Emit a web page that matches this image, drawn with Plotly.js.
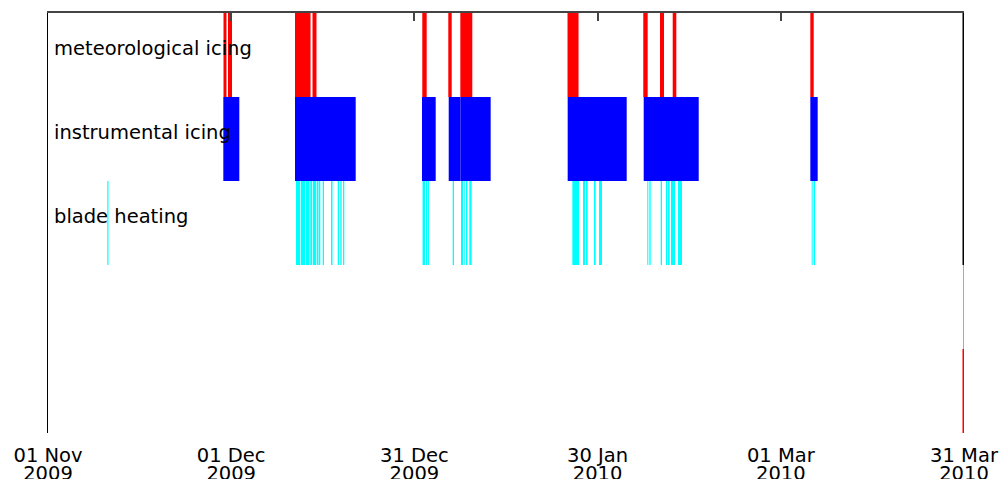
<!DOCTYPE html>
<html><head><meta charset="utf-8">
<script src="https://cdn.plot.ly/plotly-3.0.1.min.js"></script>
<style>html,body{margin:0;padding:0;background:#fff}#chart{width:1001px;height:479px}</style>
</head><body><div id="chart"></div>
<script>
// Row labels and their row positions (y units)
const rowLabels = ['meteorological icing', 'instrumental icing', 'blade heating'];
const rowPos = [4.5, 3.5, 2.5];

// Meteorological icing events (start / end)
const metStart = ['2009-11-29 17:45','2009-11-30 11:30','2009-12-11 10:45','2009-12-14 07:30','2010-01-01 07:00','2010-01-05 13:15','2010-01-07 12:30','2010-01-25 01:45','2010-02-06 11:30','2010-02-09 05:15','2010-02-11 07:10','2010-03-05 20:00'];
const metEnd   = ['2009-11-30 05:30','2009-12-01 03:10','2009-12-13 23:45','2009-12-14 23:15','2010-01-02 00:15','2010-01-06 02:40','2010-01-09 11:30','2010-01-26 21:00','2010-02-07 04:50','2010-02-09 21:00','2010-02-11 21:20','2010-03-06 09:20'];

// Instrumental icing events
const insStart = ['2009-11-29 17:00','2009-12-11 10:45','2010-01-01 05:50','2010-01-05 14:50','2010-01-07 12:30','2010-01-25 02:25','2010-02-06 13:10','2010-03-05 20:00'];
const insEnd   = ['2009-12-02 07:55','2009-12-21 09:20','2010-01-03 11:45','2010-01-07 12:30','2010-01-12 11:45','2010-02-03 18:25','2010-02-15 13:25','2010-03-07 01:00'];

// Blade heating events
const bladeStart = ['2009-11-10 17:00',
  '2009-12-11 14:40','2009-12-12 09:10','2009-12-13 04:50','2009-12-13 22:50','2009-12-14 08:20','2009-12-15 00:00','2009-12-15 09:05','2009-12-15 23:35','2009-12-17 08:15','2009-12-18 10:35','2009-12-18 20:50','2009-12-19 07:25',
  '2010-01-01 07:55','2010-01-01 21:35','2010-01-02 04:15','2010-01-06 06:30','2010-01-07 15:10','2010-01-08 04:05','2010-01-08 10:50','2010-01-08 23:45',
  '2010-01-25 20:40','2010-01-27 14:40','2010-01-28 02:25','2010-01-29 09:50','2010-01-30 05:30',
  '2010-02-07 03:20','2010-02-07 11:15','2010-02-09 08:00','2010-02-10 04:50','2010-02-10 12:45','2010-02-11 00:30','2010-02-12 04:00',
  '2010-03-06 01:25','2010-03-06 09:20'];
const bladeEnd = ['2009-11-10 21:45',
  '2009-12-12 06:25','2009-12-13 02:05','2009-12-13 19:40','2009-12-14 05:35','2009-12-14 21:20','2009-12-15 07:10','2009-12-15 14:10','2009-12-16 04:45','2009-12-17 14:10','2009-12-18 15:40','2009-12-19 02:15','2009-12-19 12:30',
  '2010-01-01 17:45','2010-01-02 01:30','2010-01-02 09:20','2010-01-06 11:35','2010-01-07 23:00','2010-01-08 06:50','2010-01-08 15:55','2010-01-09 09:10',
  '2010-01-26 22:50','2010-01-27 22:30','2010-01-28 09:10','2010-01-29 16:30','2010-01-30 17:15',
  '2010-02-07 07:15','2010-02-07 16:35','2010-02-09 13:10','2010-02-10 09:55','2010-02-10 19:25','2010-02-11 16:10','2010-02-12 19:40',
  '2010-03-06 05:20','2010-03-06 14:25'];

// Right-edge segments at the end date (y from / y to)
const edgeDate = '2010-03-31';
const edgeFrom = [2, 1, 0];
const edgeTo   = [5, 2, 1];

// Axis range and ticks
const xStart = '2009-11-01', xEnd = '2010-03-31';
const tickDates = ['2009-11-01','2009-12-01','2009-12-31','2010-01-30','2010-03-01','2010-03-31'];
const tickDayMonth = ['01 Nov','01 Dec','31 Dec','30 Jan','01 Mar','31 Mar'];
const tickYear = ['2009','2009','2009','2010','2010','2010'];

const FONT = 'DejaVu Sans, sans-serif';
const toMs = s => Date.parse(s.replace(' ', 'T'));

function bars(starts, ends, y, color) {
  return {
    type: 'bar', orientation: 'h',
    base: starts,
    x: starts.map((s, i) => toMs(ends[i]) - toMs(s)),
    y: starts.map(() => y),
    width: 1,
    marker: {color: color, line: {width: 0}},
    hoverinfo: 'skip', showlegend: false
  };
}

const edgeColors = ['#000000', '#aaaaaa', '#ff0000'];
const edgeWidths = [3, 2, 3];
const edgeAxes = ['x2', 'x3', 'x'];
const edgeTraces = edgeFrom.map((y0, i) => ({
  type: 'scatter', mode: 'lines', xaxis: edgeAxes[i],
  x: [edgeDate, edgeDate], y: [y0, edgeTo[i]],
  line: {color: edgeColors[i], width: edgeWidths[i]},
  hoverinfo: 'skip', showlegend: false
}));

const data = [
  bars(bladeStart, bladeEnd, rowPos[2], '#00ffff'),
  bars(insStart, insEnd, rowPos[1], '#0000ff'),
  bars(metStart, metEnd, rowPos[0], '#ff0000'),
  ...edgeTraces
];

const baseX = {type: 'date', range: [xStart, xEnd], showgrid: false, zeroline: false, fixedrange: true};

const layout = {
  width: 1001, height: 479,
  margin: {l: 48, r: 37, t: 13, b: 46, pad: 0},
  paper_bgcolor: '#fff', plot_bgcolor: '#fff',
  barmode: 'overlay', bargap: 0.1,
  font: {family: FONT, color: '#000'},
  xaxis: Object.assign({}, baseX, {
    tickmode: 'array', tickvals: tickDates, ticktext: tickDayMonth,
    ticks: '', showline: false, ticklabelstandoff: 8,
    tickfont: {family: FONT, size: 19.5, color: '#000'}
  }),
  xaxis2: Object.assign({}, baseX, {
    overlaying: 'x', side: 'top', anchor: 'y',
    tickmode: 'array', tickvals: tickDates,
    ticks: 'inside', ticklen: 8, tickwidth: 2, tickcolor: '#444',
    showline: true, linecolor: '#444', linewidth: 2, showticklabels: false
  }),
  xaxis3: Object.assign({}, baseX, {
    overlaying: 'x', side: 'bottom', anchor: 'y',
    tickmode: 'array', tickvals: tickDates, ticktext: tickYear,
    ticks: '', showline: false, ticklabelstandoff: 26,
    tickfont: {family: FONT, size: 19.5, color: '#000'}
  }),
  yaxis: {range: [0, 5], showline: true, linecolor: '#000', linewidth: 1,
          ticks: '', showticklabels: false, showgrid: false, zeroline: false, fixedrange: true},
  annotations: rowLabels.map((t, i) => ({
    text: t, xref: 'paper', x: 0, xshift: 4, xanchor: 'left',
    yref: 'y', y: rowPos[i], yshift: 7, yanchor: 'middle',
    showarrow: false, font: {family: FONT, size: 19.5, color: '#000'}
  }))
};

Plotly.newPlot('chart', data, layout, {staticPlot: true, displayModeBar: false});
</script>
</body></html>
